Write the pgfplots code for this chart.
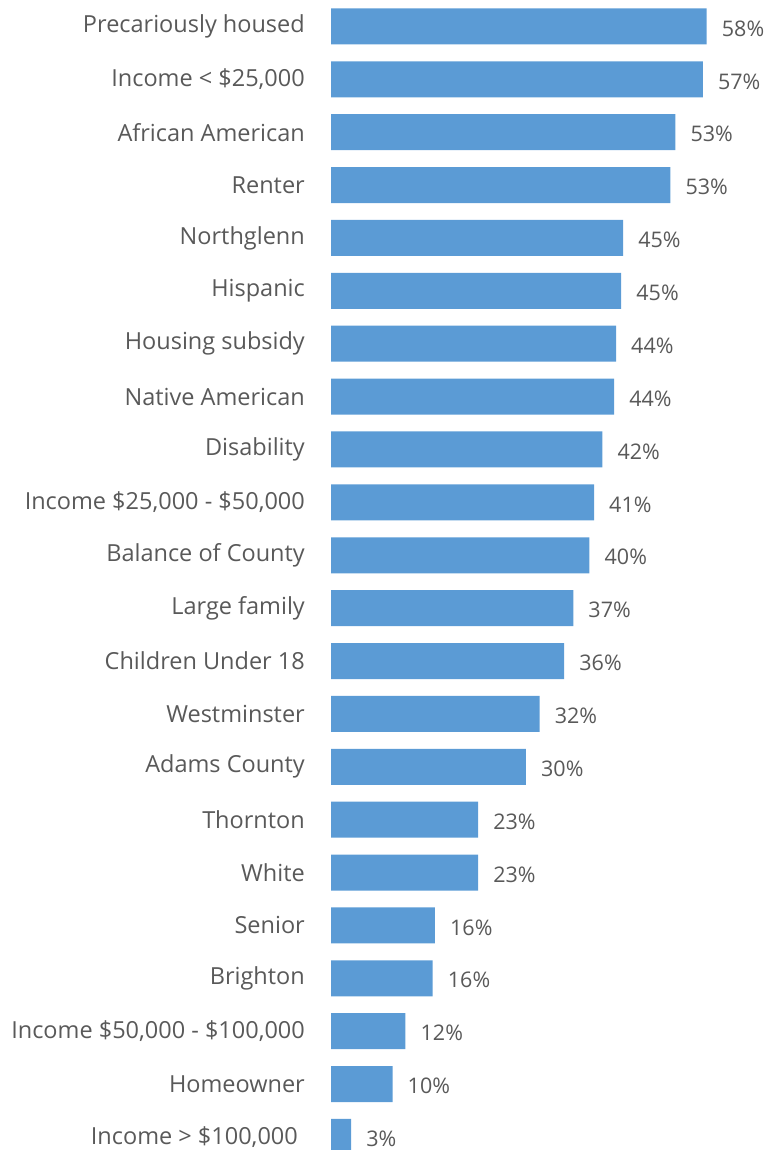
\documentclass[border=0pt]{standalone}
\usepackage{pgfplots}
\pgfplotsset{compat=1.18}
\usepackage{fontspec}
\setmainfont{Open Sans}
\definecolor{barblue}{HTML}{5B9BD5}
\definecolor{txt}{HTML}{595959}
\pgfplotstableread{
i v l
0 58.0 58
1 57.4 57
2 53.15 53
3 52.4 53
4 45.1 45
5 44.8 45
6 44.0 44
7 43.7 44
8 41.9 42
9 40.6 41
10 39.9 40
11 37.4 37
12 36.0 36
13 32.2 32
14 30.1 30
15 22.7 23
16 22.7 23
17 16.05 16
18 15.7 16
19 11.5 12
20 9.5 10
21 3.1 3
}\datatable
\begin{document}
\begin{tikzpicture}
\useasboundingbox (0,0) rectangle (771pt,1150pt);
\begin{axis}[
  at={(331pt,-13.36pt)}, anchor=south west,
  scale only axis, width=388.68pt, height=1163.36pt,
  xmin=0, xmax=60, ymin=-0.5, ymax=21.5, y dir=reverse,
  xbar, bar width=36pt,
  clip=false,
  axis line style={draw=none},
  major tick length=0pt,
  xtick=\empty,
  ytick={0,...,21},
  yticklabels={Precariously housed, {Income < \$25,000}, African American, Renter, Northglenn, Hispanic, Housing subsidy, Native American, Disability, {Income \$25,000 - \$50,000}, Balance of County, Large family, Children Under 18, Westminster, Adams County, Thornton, White, Senior, Brighton, {Income \$50,000 - \$100,000}, Homeowner, {Income > \$100,000\kern7pt}},
  yticklabel style={font=\fontsize{23.5}{28}\selectfont, text=txt, inner sep=0pt, xshift=-26pt},
]
\addplot[fill=barblue, draw=none,
  point meta=explicit symbolic,
  nodes near coords={\pgfplotspointmeta\%},
  nodes near coords style={anchor=west, inner sep=0pt, xshift=15pt, yshift=-2pt, font=\fontsize{21.5}{26}\selectfont, text=txt}]
  table[x=v, y=i, meta=l] {\datatable};
\end{axis}
\end{tikzpicture}
\end{document}
